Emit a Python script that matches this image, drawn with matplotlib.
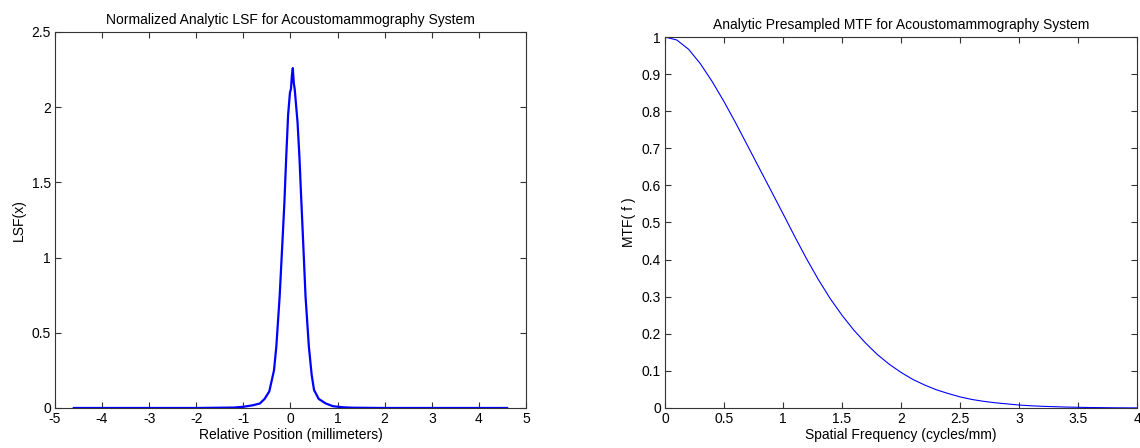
import matplotlib
matplotlib.use("Agg")
import matplotlib.pyplot as plt

plt.rcParams["font.family"] = ["Liberation Sans", "DejaVu Sans"]
plt.rcParams["font.size"] = 10

# LSF (mm, normalized)
lsf_x = [-4.6, -2.0, -1.2, -1.0, -0.8, -0.65, -0.55, -0.45, -0.35, -0.30,
         -0.23, -0.16, -0.13, -0.09, -0.05, -0.01, 0.01, 0.03, 0.05, 0.07,
         0.09, 0.12, 0.15, 0.19, 0.22, 0.26, 0.32, 0.39, 0.45, 0.50,
         0.60, 0.75, 0.90, 1.1, 1.3, 2.0, 4.6]
lsf_y = [0.0, 0.0, 0.003, 0.008, 0.018, 0.03, 0.06, 0.11, 0.25, 0.41,
         0.74, 1.17, 1.36, 1.67, 1.95, 2.10, 2.12, 2.21, 2.26, 2.16,
         2.12, 2.01, 1.90, 1.67, 1.45, 1.17, 0.74, 0.41, 0.22, 0.12,
         0.06, 0.03, 0.012, 0.005, 0.002, 0.0, 0.0]

# MTF
mtf_f = [0, 0.1, 0.2, 0.3, 0.4, 0.5, 0.6, 0.7, 0.8, 0.9, 1.0, 1.1, 1.2,
         1.3, 1.4, 1.5, 1.6, 1.7, 1.8, 1.9, 2.0, 2.1, 2.2, 2.3, 2.4, 2.5,
         2.6, 2.7, 2.8, 2.9, 3.0, 3.1, 3.2, 3.4, 3.6, 3.8, 4.0]
mtf_y = [1.0, 0.992, 0.967, 0.928, 0.880, 0.826, 0.768, 0.707, 0.646,
         0.585, 0.524, 0.462, 0.402, 0.346, 0.295, 0.250, 0.210, 0.175,
         0.144, 0.118, 0.096, 0.077, 0.062, 0.049, 0.039, 0.030, 0.023,
         0.018, 0.014, 0.011, 0.008, 0.006, 0.0045, 0.0025, 0.0013,
         0.0006, 0.0002]

lsf_xticks = [-5, -4, -3, -2, -1, 0, 1, 2, 3, 4, 5]
lsf_yticks = [0, 0.5, 1, 1.5, 2, 2.5]
lsf_yticklabels = ["0", "0.5", "1", "1.5", "2", "2.5"]
mtf_xticks = [0, 0.5, 1, 1.5, 2, 2.5, 3, 3.5, 4]
mtf_xticklabels = ["0", "0.5", "1", "1.5", "2", "2.5", "3", "3.5", "4"]
mtf_yticks = [0, 0.1, 0.2, 0.3, 0.4, 0.5, 0.6, 0.7, 0.8, 0.9, 1]
mtf_yticklabels = ["0", "0.1", "0.2", "0.3", "0.4", "0.5", "0.6", "0.7",
                   "0.8", "0.9", "1"]


def style_axes(ax):
    for sp in ax.spines.values():
        sp.set_color("0.2")
        sp.set_linewidth(0.8)
    ax.tick_params(direction="in", top=True, right=True, length=4,
                   width=0.8, color="0.2", labelsize=10, pad=3)


fig = plt.figure(figsize=(11.4, 4.48), dpi=100)

ax1 = fig.add_axes([0.0482, 0.0893, 0.4132, 0.8393])
ax1.plot(lsf_x, lsf_y, color="#0000ff", linewidth=1.6)
ax1.set_xlim(-5, 5)
ax1.set_ylim(0, 2.5)
ax1.set_xticks(lsf_xticks, [str(t) for t in lsf_xticks])
ax1.set_yticks(lsf_yticks, lsf_yticklabels)
ax1.set_title("Normalized Analytic LSF for Acoustomammography System",
              fontsize=10, pad=6)
ax1.set_xlabel("Relative Position (millimeters)", labelpad=1)
ax1.set_ylabel("LSF(x)", labelpad=4)
style_axes(ax1)

ax2 = fig.add_axes([0.5833, 0.0893, 0.4141, 0.8281])
ax2.plot(mtf_f, mtf_y, color="#0000ff", linewidth=0.8)
ax2.set_xlim(0, 4)
ax2.set_ylim(0, 1)
ax2.set_xticks(mtf_xticks, mtf_xticklabels)
ax2.set_yticks(mtf_yticks, mtf_yticklabels)
ax2.set_title("Analytic Presampled MTF for Acoustomammography System",
              fontsize=10, pad=6)
ax2.set_xlabel("Spatial Frequency (cycles/mm)", labelpad=1)
ax2.set_ylabel("MTF( f )", labelpad=4)
style_axes(ax2)

fig.savefig("out.png", dpi=100)
